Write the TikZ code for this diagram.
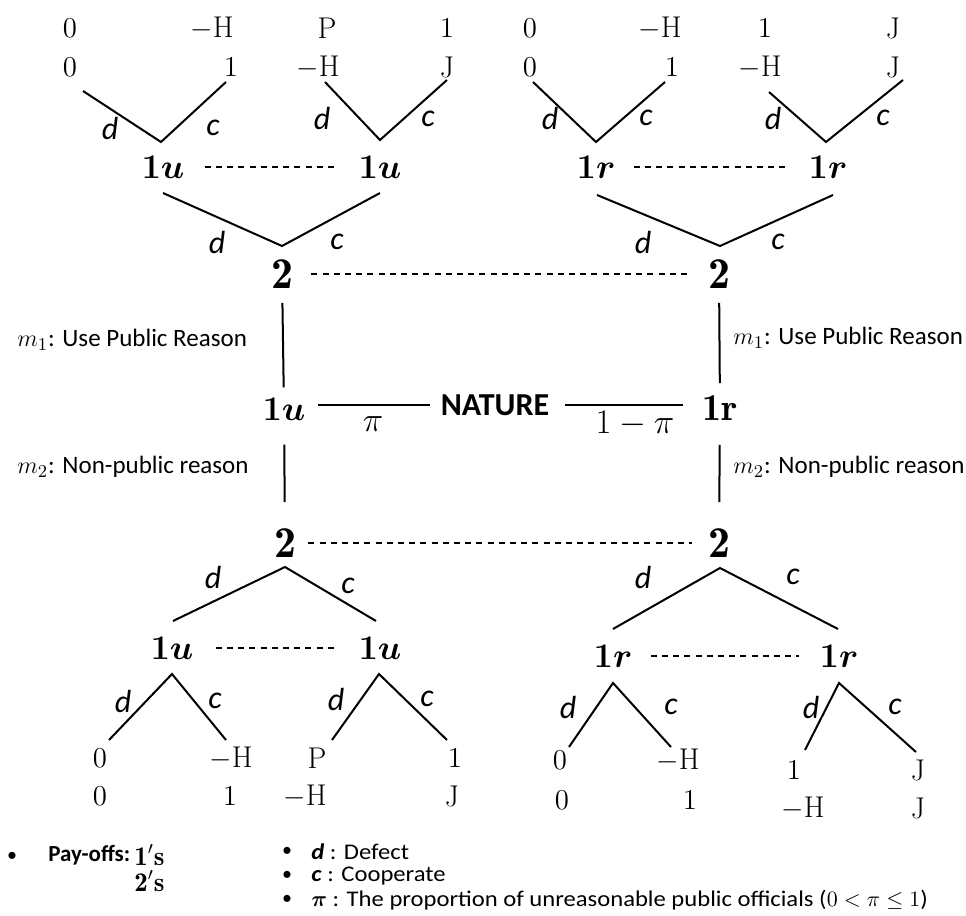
\documentclass[tikz,border=0pt]{standalone}
\usepackage{amsmath,bm}
\usepackage{fontspec}
\newfontfamily\calib{Carlito}
\newfontfamily\caliw{Carlito}[FakeStretch=1.1]
\begin{document}
\begin{tikzpicture}[x=0.5pt,y=-0.5pt,
 pay/.style={inner sep=0pt,font=\fontsize{15}{15}\selectfont},
 pl/.style={inner sep=0pt,font=\fontsize{19}{19}\selectfont},
 two/.style={inner sep=0pt,font=\fontsize{22}{22}\selectfont},
 lab/.style={inner sep=0pt,font=\calib\itshape\fontsize{16}{16}\selectfont},
 txt/.style={inner sep=0pt,anchor=west,font=\calib\fontsize{12.5}{12.5}\selectfont},
 leg/.style={inner sep=0pt,anchor=west,font=\caliw\fontsize{11.2}{11.2}\selectfont},
 edge/.style={line width=1pt},
 info/.style={line width=1pt,dash pattern=on 3pt off 2.6pt},
]
\useasboundingbox (0,0) rectangle (966,916);

% ===== top left subtree =====
\node[pay] (tla1) at (70,28) {$0$};
\node[pay] (tla2) at (212,28) {$-\mathrm{H}$};
\node[pay] (tla3) at (327,28) {$\mathrm{P}$};
\node[pay] (tla4) at (447,28) {$1$};
\node[pay] (tlb1) at (70,67) {$0$};
\node[pay] (tlb2) at (231,67) {$1$};
\node[pay] (tlb3) at (318,67) {$-\mathrm{H}$};
\node[pay] (tlb4) at (447,67) {$\mathrm{J}$};
\coordinate (tlv1) at (161,142); \coordinate (tlv1l) at (83,91); \coordinate (tlv1r) at (226,82);
\coordinate (tlv2) at (380,140); \coordinate (tlv2l) at (325,82); \coordinate (tlv2r) at (447,80);
\draw[edge] (tlv1l) -- (tlv1) -- (tlv1r);
\draw[edge] (tlv2l) -- (tlv2) -- (tlv2r);
\node[lab] (tld1) at (110,128) {d};
\node[lab] (tlc1) at (213,128) {c};
\node[lab] (tld2) at (322,118) {d};
\node[lab] (tlc2) at (428,119) {c};
\node[pl] (tu1) at (163,167) {$\bm{1u}$};
\node[pl] (tu2) at (380,167) {$\bm{1u}$};
\draw[info,shorten <=10pt,shorten >=10pt] (tu1) -- (tu2);

% ===== top right subtree =====
\node[pay] (tra1) at (530,28) {$0$};
\node[pay] (tra2) at (660,28) {$-\mathrm{H}$};
\node[pay] (tra3) at (765,28) {$1$};
\node[pay] (tra4) at (893,28) {$\mathrm{J}$};
\node[pay] (trb1) at (530,67) {$0$};
\node[pay] (trb2) at (672,67) {$1$};
\node[pay] (trb3) at (760,67) {$-\mathrm{H}$};
\node[pay] (trb4) at (893,67) {$\mathrm{J}$};
\coordinate (trv1) at (596,142); \coordinate (trv1l) at (533,82); \coordinate (trv1r) at (665,82);
\coordinate (trv2) at (826,142); \coordinate (trv2l) at (769,92); \coordinate (trv2r) at (903,80);
\draw[edge] (trv1l) -- (trv1) -- (trv1r);
\draw[edge] (trv2l) -- (trv2) -- (trv2r);
\node[lab] (trd1) at (550,118) {d};
\node[lab] (trc1) at (646,118) {c};
\node[lab] (trd2) at (773,118) {d};
\node[lab] (trc2) at (883,118) {c};
\node[pl] (tr1) at (596,167) {$\bm{1r}$};
\node[pl] (tr2) at (828,167) {$\bm{1r}$};
\draw[info,shorten <=9pt,shorten >=9pt] (tr1) -- (tr2);

% ===== upper player 2 =====
\coordinate (u2lv) at (282,246); \coordinate (u2ll) at (163,193); \coordinate (u2lr) at (380,193);
\coordinate (u2rv) at (720,246); \coordinate (u2rl) at (597,195); \coordinate (u2rr) at (833,195);
\draw[edge] (u2ll) -- (u2lv) -- (u2lr);
\draw[edge] (u2rl) -- (u2rv) -- (u2rr);
\node[lab] (ud1) at (217,242) {d};
\node[lab] (uc1) at (337,242) {c};
\node[lab] (ud2) at (643,242) {d};
\node[lab] (uc2) at (778,242) {c};
\node[two] (t2l) at (282,274) {$\mathbf{2}$};
\node[two] (t2r) at (719,274) {$\mathbf{2}$};
\draw[info,shorten <=9pt,shorten >=8pt] (t2l) -- (t2r);

% ===== middle =====
\node[pl] (nu) at (284,409) {$\bm{1u}$};
\node[pl] (nr) at (720,408) {$\mathbf{1r}$};
\node[inner sep=0pt,font=\calib\bfseries\fontsize{16}{16}\selectfont] (nat) at (495,405) {NATURE};
\draw[edge,shorten <=7pt,shorten >=5pt] (t2l) -- (nu);
\draw[edge,shorten <=7pt,shorten >=6pt] (t2r) -- (nr);
\coordinate (pil) at (318,405); \coordinate (pir) at (430,405);
\coordinate (qil) at (565,405); \coordinate (qir) at (683,405);
\draw[edge] (pil) -- (pir);
\draw[edge] (qil) -- (qir);
\node[inner sep=0pt,font=\fontsize{18}{18}\selectfont] (pi) at (373,424) {$\pi$};
\node[inner sep=0pt,font=\fontsize{18}{18}\selectfont] (ompi) at (635,424) {$1-\pi$};
\node[txt] (m1l) at (17,340) {$m_1$: Use Public Reason};
\node[txt] (m1r) at (733,338) {$m_1$: Use Public Reason};
\node[txt] (m2l) at (17,467) {$m_2$: Non-public reason};
\node[txt] (m2r) at (733,467) {$m_2$: Non-public reason};

% ===== lower player 2 =====
\node[two] (b2l) at (285,543) {$\mathbf{2}$};
\node[two] (b2r) at (719,543) {$\mathbf{2}$};
\draw[edge,shorten <=12pt,shorten >=13pt] (nu) -- (b2l);
\draw[edge,shorten <=12pt,shorten >=13pt] (nr) -- (b2r);
\draw[info,shorten <=6pt,shorten >=8pt] (b2l) -- (b2r);

% ===== bottom left subtree =====
\coordinate (blv) at (285,567); \coordinate (blvl) at (173,621); \coordinate (blvr) at (376,621);
\draw[edge] (blvl) -- (blv) -- (blvr);
\node[lab] (bld) at (213,577) {d};
\node[lab] (blc) at (348,586) {c};
\node[pl] (bu1) at (172,648) {$\bm{1u}$};
\node[pl] (bu2) at (380,648) {$\bm{1u}$};
\draw[info,shorten <=11pt,shorten >=11pt] (bu1) -- (bu2);
\coordinate (blw1) at (172,674); \coordinate (blw1l) at (109,740); \coordinate (blw1r) at (226,740);
\coordinate (blw2) at (379,674); \coordinate (blw2l) at (332,740); \coordinate (blw2r) at (447,740);
\draw[edge] (blw1l) -- (blw1) -- (blw1r);
\draw[edge] (blw2l) -- (blw2) -- (blw2r);
\node[lab] (bld1) at (123,701) {d};
\node[lab] (blc1) at (215,701) {c};
\node[lab] (bld2) at (336,699) {d};
\node[lab] (blc2) at (427,699) {c};
\node[pay] (bla1) at (100,758) {$0$};
\node[pay] (bla2) at (231,758) {$-\mathrm{H}$};
\node[pay] (bla3) at (317,758) {$\mathrm{P}$};
\node[pay] (bla4) at (455,758) {$1$};
\node[pay] (blb1) at (100,796) {$0$};
\node[pay] (blb2) at (230,796) {$1$};
\node[pay] (blb3) at (305,796) {$-\mathrm{H}$};
\node[pay] (blb4) at (452,796) {$\mathrm{J}$};

% ===== bottom right subtree =====
\coordinate (brv) at (720,568); \coordinate (brvl) at (613,629); \coordinate (brvr) at (838,629);
\draw[edge] (brvl) -- (brv) -- (brvr);
\node[lab] (brd) at (643,577) {d};
\node[lab] (brc) at (793,577) {c};
\node[pl] (br1) at (613,656) {$\bm{1r}$};
\node[pl] (br2) at (839,656) {$\bm{1r}$};
\draw[info,shorten <=9pt,shorten >=10pt] (br1) -- (br2);
\coordinate (brw1) at (613,683); \coordinate (brw1l) at (569,747); \coordinate (brw1r) at (671,747);
\coordinate (brw2) at (839,683); \coordinate (brw2l) at (805,750); \coordinate (brw2r) at (916,752);
\draw[edge] (brw1l) -- (brw1) -- (brw1r);
\draw[edge] (brw2l) -- (brw2) -- (brw2r);
\node[lab] (brd1) at (568,707) {d};
\node[lab] (brc1) at (671,707) {c};
\node[lab] (brd2) at (811,707) {d};
\node[lab] (brc2) at (895,707) {c};
\node[pay] (bra1) at (560,760) {$0$};
\node[pay] (bra2) at (678,760) {$-\mathrm{H}$};
\node[pay] (bra3) at (794,770) {$1$};
\node[pay] (bra4) at (918,770) {$\mathrm{J}$};
\node[pay] (brb1) at (562,800) {$0$};
\node[pay] (brb2) at (690,800) {$1$};
\node[pay] (brb3) at (803,808) {$-\mathrm{H}$};
\node[pay] (brb4) at (918,808) {$\mathrm{J}$};

% ===== legend =====
\node[inner sep=0pt,font=\calib\fontsize{10}{10}\selectfont] (bu0) at (12,857) {•};
\node[inner sep=0pt,anchor=west,font=\calib\bfseries\fontsize{11.5}{11.5}\selectfont] (payoffs) at (48,855) {Pay-offs:};
\node[inner sep=0pt,anchor=west,font=\fontsize{13.5}{13.5}\selectfont] (p1s) at (134,855) {$\mathbf{1'}\mathbf{s}$};
\node[inner sep=0pt,anchor=west,font=\fontsize{13.5}{13.5}\selectfont] (p2s) at (134,881) {$\mathbf{2'}\mathbf{s}$};
\node[inner sep=0pt,font=\calib\fontsize{10}{10}\selectfont] (bu1x) at (287,852) {•};
\node[inner sep=0pt,font=\calib\fontsize{10}{10}\selectfont] (bu2x) at (287,876) {•};
\node[inner sep=0pt,font=\calib\fontsize{10}{10}\selectfont] (bu3x) at (287,900) {•};
\node[leg] (ld) at (311,852) {\textbf{\textit{d}} : Defect};
\node[leg] (lc) at (311,876) {\textbf{\textit{c}} : Cooperate};
\node[leg] (lp) at (311,900) {$\bm{\pi}$ : The proportion of unreasonable public officials ($0<\pi\le 1$)};
\end{tikzpicture}
\end{document}
